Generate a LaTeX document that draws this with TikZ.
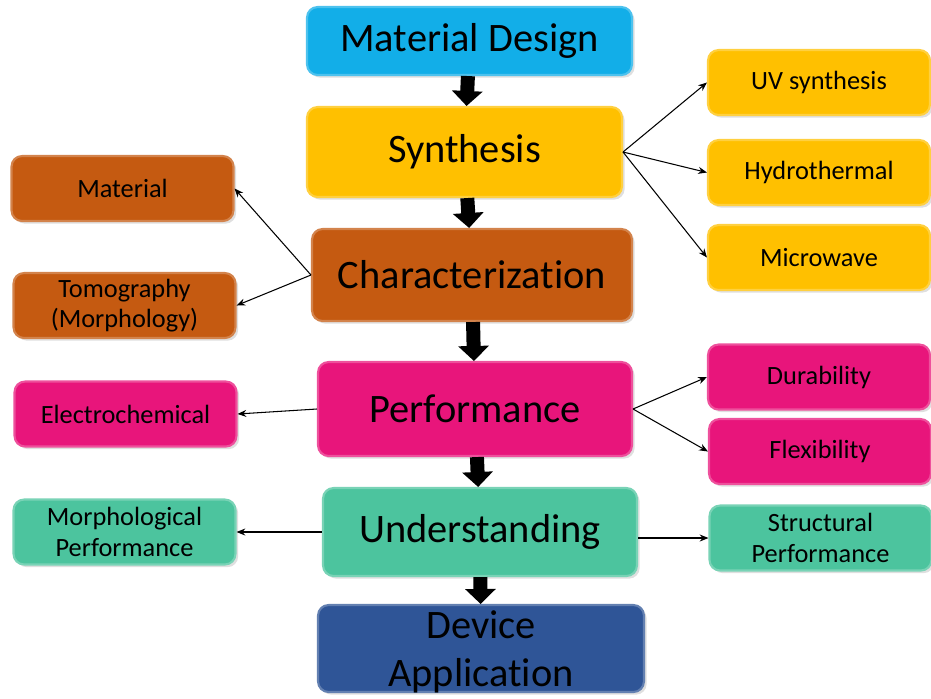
\documentclass[tikz,border=0pt]{standalone}
\usepackage{fontspec}
\setmainfont{Carlito}[Ligatures={NoCommon}]
\usetikzlibrary{arrows.meta, calc, positioning, shadows}

\definecolor{designblue}{HTML}{12AEE8}
\definecolor{synthyellow}{HTML}{FFC000}
\definecolor{charorange}{HTML}{C55A11}
\definecolor{perfpink}{HTML}{E8157B}
\definecolor{undteal}{HTML}{4CC49E}
\definecolor{devblue}{HTML}{2F5597}

\tikzset{
  box/.style={rounded corners=6pt, draw=#1!75!white, line width=1.2pt,
    fill=#1, text=black, align=center, inner sep=2pt,
    drop shadow={opacity=0.25, shadow xshift=1.5pt, shadow yshift=-1.5pt}},
  mainbox/.style={box=#1, font=\fontsize{23}{27}\selectfont},
  sidebox/.style={box=#1, minimum width=4.44cm, minimum height=1.3cm,
    font=\fontsize{15}{17.5}\selectfont},
  bigarrow/.style={line width=0.28cm, -{Triangle[width=0.6cm,length=0.3cm]}},
  thin/.style={-{Stealth[length=5pt,width=4pt]}, line width=0.6pt}
}

\begin{document}
\begin{tikzpicture}[x=0.02cm, y=-0.02cm]
	\useasboundingbox (0,0) rectangle (931,698);

	% main chain
	\node[mainbox=designblue, minimum width=6.5cm, minimum height=1.36cm]
		(design) at (469.5,41) {Material Design};
	\node[mainbox=synthyellow, minimum width=6.3cm, minimum height=1.8cm]
		(synth) at (464.5,152) {Synthesis};
	\node[mainbox=charorange, minimum width=6.4cm, minimum height=1.84cm]
		(char) at (472,275) {Characterization};
	\node[mainbox=perfpink, minimum width=6.28cm, minimum height=1.88cm]
		(perf) at (475,409) {Performance};
	\node[mainbox=undteal, minimum width=6.28cm, minimum height=1.76cm]
		(und) at (480,532) {Understanding};
	\node[mainbox=devblue, minimum width=6.52cm, minimum height=1.74cm, text depth=0pt]
		(dev) at (481,648.5) {Device\\Application};

	% right column
	\node[sidebox=synthyellow] (uv)    at (819,82.5)  {UV synthesis};
	\node[sidebox=synthyellow] (hydro) at (819,172.5) {Hydrothermal};
	\node[sidebox=synthyellow] (micro) at (819,257.5) {Microwave};
	\node[sidebox=perfpink]    (dura)  at (819,377)   {Durability};
	\node[sidebox=perfpink]    (flex)  at (820,451.5) {Flexibility};
	\node[sidebox=undteal]     (struc) at (820.5,538) {Structural\\Performance};

	% left column
	\node[sidebox=charorange] (mat)   at (122.5,188.5) {Material};
	\node[sidebox=charorange] (tomo)  at (124.5,305.5) {Tomography\\(Morphology)};
	\node[sidebox=perfpink]   (echem) at (125.5,414)   {Electrochemical};
	\node[sidebox=undteal]    (morph) at (124.5,532)   {Morphological\\Performance};

	% block arrows down the chain
	\draw[bigarrow] (design) -- (synth);
	\draw[bigarrow] (synth) -- (char);
	\draw[bigarrow] (char) -- (perf);
	\draw[bigarrow] (perf) -- (und);
	\draw[bigarrow] (und) -- (dev);

	% branches
	\draw[thin] (synth.east) -- (uv.west);
	\draw[thin] (synth.east) -- (hydro.west);
	\draw[thin] (synth.east) -- (micro.west);
	\draw[thin] (char.west) -- (mat.east);
	\draw[thin] (char.west) -- (tomo.east);
	\draw[thin] (perf.east) -- (dura.west);
	\draw[thin] (perf.east) -- (flex.west);
	\draw[thin] (perf.west) -- (echem.east);
	\draw[thin] (und.west) -- (morph.east);
	\draw[thin] (und.east |- struc.west) -- (struc.west);
\end{tikzpicture}
\end{document}
